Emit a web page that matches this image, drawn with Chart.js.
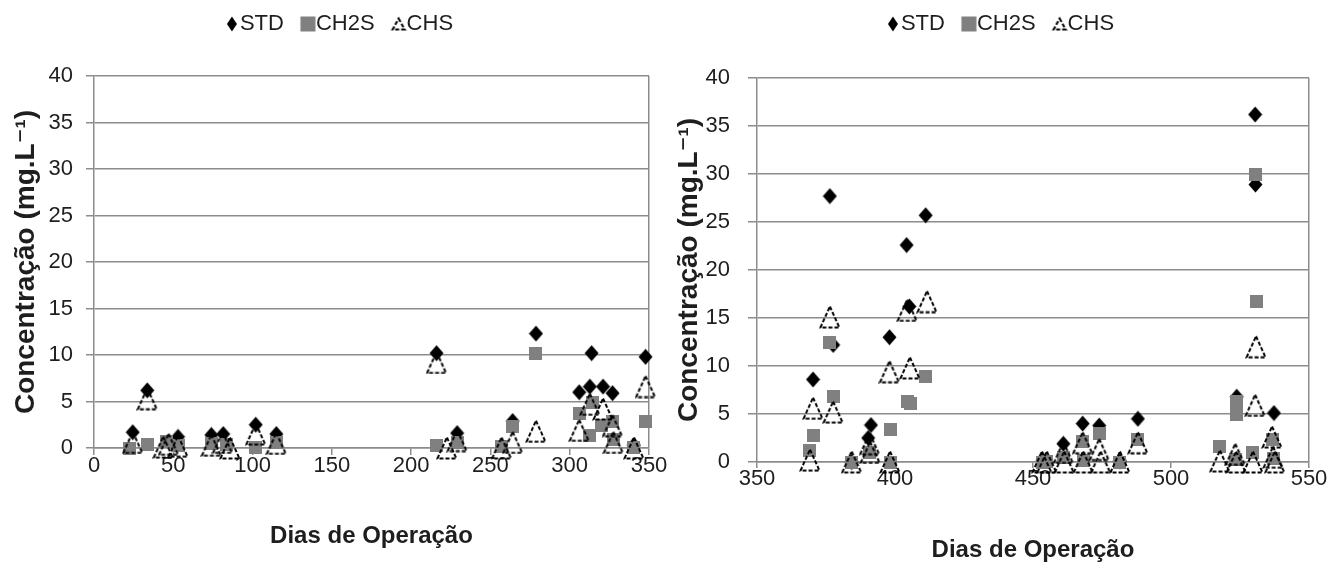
<!DOCTYPE html>
<html>
<head>
<meta charset="utf-8">
<script src="https://cdn.jsdelivr.net/npm/chart.js@4.4.1/dist/chart.umd.min.js"></script>
<style>
html, body { margin: 0; padding: 0; background: #fff; }
#chartLeft { position: absolute; left: 0; top: 0; }
#chartRight { position: absolute; left: 672px; top: 0; }
</style>
</head>
<body>
<canvas id="chartLeft" width="672" height="570"></canvas>
<canvas id="chartRight" width="671" height="570"></canvas>
<script>
// dados - primeiro periodo (0 a 350 dias)
const diasStdA = [24.4, 33.6, 53, 74, 81.5, 102, 115, 216, 229, 264, 278.7, 306, 312.7, 313.8, 321, 327, 340.5, 347.8];
const stdA     = [1.7, 6.2, 1.2, 1.4, 1.5, 2.5, 1.5, 10.2, 1.6, 2.9, 12.3, 6.0, 6.6, 10.2, 6.6, 5.9, 0.3, 9.8];
const diasCh2sA = [22.7, 33.6, 45.8, 53, 74, 83.7, 102, 115, 216, 229, 257, 264, 278.7, 306, 312.7, 314.5, 320, 327, 327.5, 340.5, 347.8];
const ch2sA     = [0, 0.4, 0.7, 0.3, 0.5, 0.4, 0.1, 0.6, 0.3, 0.6, 0.2, 2.3, 10.2, 3.7, 1.3, 4.9, 2.4, 2.8, 0.9, 0.1, 2.9];
const diasChsA = [24.4, 33.6, 43.7, 47, 53, 74, 81, 85.7, 102, 115, 216, 222.5, 229, 257, 264, 278.7, 306, 312.7, 321, 327, 327.5, 340.5, 347.8];
const chsA     = [0.6, 5.3, 0.1, 0.4, 0.2, 0.3, 0.6, 0, 1.5, 0.5, 9.2, 0, 0.8, 0, 0.6, 1.8, 1.9, 4.7, 4.2, 2.4, 0.6, 0, 6.6];

// dados - segundo periodo (350 a 550 dias)
const diasStdB = [370.3, 376.4, 377.6, 384.3, 390.3, 391.3, 398, 404.2, 405.2, 411.1, 453.5, 461, 468, 474, 481.5, 488, 523.8, 530.5, 530.6, 537.3];
const stdB     = [8.6, 27.7, 12.2, 0, 2.5, 3.85, 13.0, 22.6, 16.2, 25.7, 0.2, 1.9, 4.0, 3.8, 0.1, 4.5, 6.8, 36.2, 28.9, 5.1];
const diasCh2sB = [369.2, 370.3, 376.4, 377.6, 384.3, 390.8, 398.2, 398.5, 404.4, 405.6, 411.1, 453.5, 455, 461, 468, 468.2, 474, 481.5, 488, 517.6, 523.5, 523.8, 523.9, 529.7, 530.5, 530.8, 536.6, 537.2];
const ch2sB     = [1.25, 2.8, 12.4, 6.8, 0, 1.0, 3.4, 0, 6.3, 6.1, 8.9, 0, 0.1, 0.5, 2.1, 0.2, 3.0, 0, 2.3, 1.6, 0.3, 6.3, 5.0, 1.0, 29.9, 16.7, 2.3, 0.4];
const diasChsB = [369.2, 370.3, 376.4, 377.6, 384.3, 390.8, 391, 398, 398.2, 404.4, 405.4, 411.6, 453.2, 455, 461, 461.3, 468, 468.2, 474, 474.5, 481.5, 488, 517.7, 523.3, 523.6, 529.7, 530.5, 530.8, 536.6, 537, 537.6];
const chsB     = [0.2, 5.6, 15.1, 5.2, 0, 1.9, 1.0, 9.4, 0, 15.8, 9.8, 16.7, 0, 0, 1.0, 0, 2.0, 0, 1.3, 0, 0, 2.0, 0.1, 0.8, 0, 0, 5.9, 12.0, 2.6, 0.5, 0];

const yTicks = [0, 5, 10, 15, 20, 25, 30, 35, 40];

const gridColor = '#8c8c8c';
const textColor = '#1e1e1e';
const family = "'Liberation Sans', 'DejaVu Sans', Arial, sans-serif";

// marcadores desenhados num canvas pequeno
function makeMarker(w, h, draw) {
    const c = document.createElement('canvas');
    c.width = w;
    c.height = h;
    draw(c.getContext('2d'), w, h);
    return c;
}
// marcador da legenda: canvas mais largo, forma deslocada para a direita (perto do texto)
function makeLegendMarker(w, h, draw) {
    const c = document.createElement('canvas');
    c.width = 32;
    c.height = h + 2;
    const g = c.getContext('2d');
    g.translate(24 - w / 2, 1);
    draw(g, w, h);
    return c;
}
function diamondShape(g, w, h) {
    g.fillStyle = '#000';
    g.beginPath();
    g.moveTo(w / 2, 0.5);
    g.lineTo(w - 0.5, h / 2);
    g.lineTo(w / 2, h - 0.5);
    g.lineTo(0.5, h / 2);
    g.closePath();
    g.fill();
}
function squareShape(g, w, h) {
    g.fillStyle = '#808080';
    g.fillRect(0, 0, w, h);
}
function triangleShape(g, w, h) {
    g.strokeStyle = '#000';
    g.lineWidth = 2;
    g.setLineDash([4, 2]);
    g.beginPath();
    g.moveTo(w / 2, 1.5);
    g.lineTo(w - 1.5, h - 1.5);
    g.lineTo(1.5, h - 1.5);
    g.closePath();
    g.stroke();
}
const diamond = makeMarker(15, 17, diamondShape);
const square = makeMarker(13, 13, squareShape);
const triangle = makeMarker(22, 24, triangleShape);
const legendMarks = {
    'STD': makeLegendMarker(11, 16, diamondShape),
    'CH2S': makeLegendMarker(15, 15, squareShape),
    'CHS': makeLegendMarker(15, 14, triangleShape)
};

function toPoints(days, values) {
    return days.map((d, i) => ({ x: d, y: values[i] }));
}

function makeDataset(label, days, values, marker, order) {
    return {
        label: label,
        data: toPoints(days, values),
        pointStyle: marker,
        pointRadius: 7,
        pointHoverRadius: 7,
        backgroundColor: '#000',
        borderColor: '#000',
        showLine: false,
        clip: false,
        order: order
    };
}

// g: geometria de cada grafico (area do grafico em px)
function makeChart(id, sets, xMin, xMax, g) {
    const ctx = document.getElementById(id).getContext('2d');
    return new Chart(ctx, {
        type: 'scatter',
        data: { datasets: sets },
        options: {
            responsive: false,
            animation: false,
            layout: { padding: { top: 0, left: 0, right: g.legendShift, bottom: 0 } },
            plugins: {
                tooltip: { enabled: false },
                // titulo vazio usado so como espaco entre legenda e grafico
                title: {
                    display: true,
                    text: ' ',
                    weight: 500,
                    font: { size: 1, lineHeight: 1 },
                    padding: { top: 0, bottom: g.gap }
                },
                legend: {
                    position: 'top',
                    reverse: true,
                    labels: {
                        usePointStyle: true,
                        boxWidth: 10,
                        padding: 11,
                        color: textColor,
                        font: { family: family, size: 22 },
                        generateLabels: chart => {
                            const items = Chart.defaults.plugins.legend.labels.generateLabels(chart);
                            items.forEach(it => { it.pointStyle = legendMarks[it.text]; });
                            return items;
                        }
                    }
                }
            },
            scales: {
                x: {
                    type: 'linear',
                    min: xMin,
                    max: xMax,
                    ticks: { stepSize: 50, color: textColor, padding: 0, maxRotation: 0,
                             font: { family: family, size: 22, lineHeight: 1 } },
                    grid: {
                        color: c => (c.tick && c.tick.value === xMax) ? gridColor : 'rgba(0,0,0,0)',
                        tickColor: gridColor,
                        lineWidth: 1.5,
                        tickLength: g.xTick
                    },
                    border: { color: gridColor, width: 1.5 },
                    title: { display: true, text: 'Dias de Operação', color: textColor,
                             font: { family: family, size: 24, weight: 'bold' },
                             padding: { top: 0, bottom: g.xTitlePad } },
                    afterFit: s => { s.height = g.xHeight; s.paddingLeft = 0; s.paddingRight = g.right; }
                },
                y: {
                    min: 0,
                    max: 40,
                    afterBuildTicks: s => { s.ticks = yTicks.map(v => ({ value: v })); },
                    ticks: { color: textColor, padding: g.yTickPad,
                             font: { family: family, size: 22, lineHeight: 1 } },
                    grid: { color: gridColor, lineWidth: 1.5, tickLength: g.yTick },
                    border: { color: gridColor, width: 1.5 },
                    title: { display: true, text: 'Concentração (mg.L⁻¹)', color: textColor,
                             font: { family: family, size: 28, weight: 'bold', lineHeight: 1.1 },
                             padding: g.yTitlePad },
                    afterFit: s => { s.width = g.yWidth; s.paddingTop = g.top; s.paddingBottom = 0; }
                }
            }
        }
    });
}

const chartLeft = makeChart('chartLeft', [
    makeDataset('STD', diasStdA, stdA, diamond, 3),
    makeDataset('CH2S', diasCh2sA, ch2sA, square, 2),
    makeDataset('CHS', diasChsA, chsA, triangle, 1)
], 0, 350, { yWidth: 94, top: 76, xHeight: 122, right: 23, xTick: 7, yTick: 8, gap: 30,
             yTickPad: 13, yTitlePad: 11, xTitlePad: 19, legendShift: 0 });

const chartRight = makeChart('chartRight', [
    makeDataset('STD', diasStdB, stdB, diamond, 3),
    makeDataset('CH2S', diasCh2sB, ch2sB, square, 2),
    makeDataset('CHS', diasChsB, chsB, triangle, 1)
], 350, 550, { yWidth: 85, top: 78, xHeight: 108, right: 34, xTick: 6, yTick: 9, gap: 32,
               yTickPad: 18, yTitlePad: 2, xTitlePad: 5, legendShift: 21 });
</script>
</body>
</html>
